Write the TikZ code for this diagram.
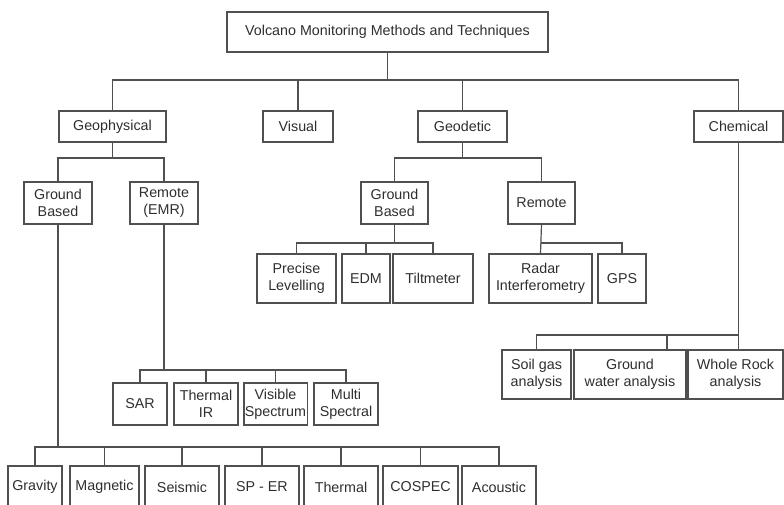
\documentclass[tikz,border=0pt]{standalone}
\usepackage{fontspec}
\setmainfont{Liberation Sans}
\definecolor{linegray}{HTML}{505050}
\definecolor{textgray}{HTML}{2E2E2E}
\begin{document}
\begin{tikzpicture}[x=1pt,y=-1pt,
    box/.style={draw=linegray, line width=1.2pt, text=textgray, align=center,
      inner sep=1pt, font=\fontsize{14.3}{17}\selectfont},
    link/.style={draw=linegray, line width=1.2pt}]
      \useasboundingbox (0,0) rectangle (784,504);
      \clip (0,0) rectangle (784,504);

      % Draw the title and the four main groups
      \node[box, minimum width=321pt, minimum height=40pt] at (387.5,32) (title) {Volcano Monitoring Methods and Techniques};
      \node[box, minimum width=107pt, minimum height=31pt] at (112.5,126.5) (geophys) {Geophysical};
      \node[box, minimum width=70pt, minimum height=31pt] at (298,126.5) (visual) {Visual};
      \node[box, minimum width=89pt, minimum height=31pt] at (462.5,126.5) (geodetic) {Geodetic};
      \node[box, minimum width=89pt, minimum height=31pt] at (738.5,126.5) (chemical) {Chemical};
      \draw[link] (title.south) -- (title.south |- 0,80);
      \draw[link] (geophys.north) |- (chemical.north |- 0,80) -- (chemical.north);
      \draw[link] (visual.north) -- (visual.north |- 0,80);
      \draw[link] (geodetic.north) -- (geodetic.north |- 0,80);

      % Draw the second level
      \node[box, minimum width=68pt, minimum height=42pt] at (58,203) (gbased) {Ground\\Based};
      \node[box, minimum width=68pt, minimum height=42pt] at (164,203) (emr) {Remote\\(EMR)};
      \node[box, minimum width=67pt, minimum height=42pt] at (394.5,203) (ggbased) {Ground\\Based};
      \node[box, minimum width=67pt, minimum height=42pt] at (541.5,203) (gremote) {Remote};
      \draw[link] (geophys.south) -- (geophys.south |- 0,158);
      \draw[link] (gbased.north) |- (emr.north |- 0,158) -- (emr.north);
      \draw[link] (geodetic.south) -- (geodetic.south |- 0,158);
      \draw[link] (ggbased.north) |- (gremote.north |- 0,158) -- (gremote.north);

      % Draw the geodetic methods
      \node[box, minimum width=79pt, minimum height=49pt] at (296.5,278.5) (levelling) {Precise\\Levelling};
      \node[box, minimum width=48pt, minimum height=49pt] at (366,278.5) (edm) {EDM};
      \node[box, minimum width=80pt, minimum height=49pt] at (433,278.5) (tilt) {Tiltmeter};
      \node[box, minimum width=103pt, minimum height=49pt] at (540.5,278.5) (radar) {Radar\\Interferometry};
      \node[box, minimum width=48pt, minimum height=49pt] at (622,278.5) (gps) {GPS};
      \draw[link] (ggbased.south) -- (ggbased.south |- 0,243);
      \draw[link] (levelling.north) |- (tilt.north |- 0,243) -- (tilt.north);
      \draw[link] (edm.north) -- (edm.north |- 0,243);
      \draw[link] (gremote.south) -- (radar.north);
      \draw[link] (radar.north |- 0,243) -| (gps.north);

      % Draw the chemical methods
      \node[box, minimum width=69pt, minimum height=49pt] at (536.5,374.5) (soilgas) {Soil gas\\analysis};
      \node[box, minimum width=112pt, minimum height=49pt] at (630,374.5) (gwater) {Ground\\water analysis};
      \node[box, minimum width=95pt, minimum height=49pt] at (735.5,374.5) (wrock) {Whole Rock\\analysis};
      \draw[link] (chemical.south) -- (chemical.south |- wrock.north);
      \draw[link] (soilgas.north) |- (chemical.south |- 0,335);
      \draw[link] ([xshift=37pt]gwater.north) -- ([xshift=37pt]gwater.north |- 0,335);

      % Draw the remote sensing methods
      \node[box, minimum width=54pt, minimum height=42pt] at (140,404) (sar) {SAR};
      \node[box, minimum width=64pt, minimum height=42pt] at (206,404) (thermir) {Thermal\\IR};
      \node[box, minimum width=63pt, minimum height=42pt] at (275.5,404) (visible) {Visible\\Spectrum};
      \node[box, minimum width=64pt, minimum height=42pt] at (346,404) (multi) {Multi\\Spectral};
      \draw[link] (emr.south) -- (emr.south |- 0,370);
      \draw[link] (sar.north) |- (multi.north |- 0,370) -- (multi.north);
      \draw[link] (thermir.north) -- (thermir.north |- 0,370);
      \draw[link] (visible.north) -- (visible.north |- 0,370);

      % Draw the ground based methods
      \node[box, minimum width=54pt, minimum height=42pt] at (35,487) (gravity) {Gravity};
      \node[box, minimum width=69pt, minimum height=42pt] at (104.5,487) (magnetic) {Magnetic};
      \node[box, minimum width=74pt, minimum height=42pt] at (182,487) (seismic) {Seismic};
      \node[box, minimum width=74pt, minimum height=42pt] at (262,487) (sper) {SP - ER};
      \node[box, minimum width=74pt, minimum height=42pt] at (341,487) (thermal) {Thermal};
      \node[box, minimum width=75pt, minimum height=42pt] at (420.5,487) (cospec) {COSPEC};
      \node[box, minimum width=74pt, minimum height=42pt] at (499,487) (acoustic) {Acoustic};
      \draw[link] (gbased.south) -- (gbased.south |- 0,447);
      \draw[link] (gravity.north) |- (acoustic.north |- 0,447) -- (acoustic.north);
      \foreach \n in {magnetic,seismic,sper,thermal,cospec}
        \draw[link] (\n.north) -- (\n.north |- 0,447);
    \end{tikzpicture}
\end{document}
